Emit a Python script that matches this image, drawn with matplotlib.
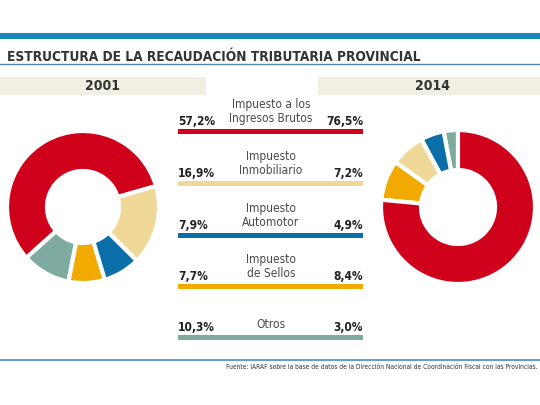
import numpy as np
import matplotlib.pyplot as plt
import matplotlib.patches as patches
from matplotlib import font_manager

categories = ['Impuesto a los\nIngresos Brutos', 'Impuesto\nInmobiliario',
              'Impuesto\nAutomotor', 'Impuesto\nde Sellos', 'Otros']
values_2001 = [57.2, 16.9, 7.9, 7.7, 10.3]
values_2014 = [76.5, 7.2, 4.9, 8.4, 3.0]
labels_2001 = ['57,2%', '16,9%', '7,9%', '7,7%', '10,3%']
labels_2014 = ['76,5%', '7,2%', '4,9%', '8,4%', '3,0%']
colours = ['#d0021b', '#efd898', '#0a6ea8', '#f2a900', '#7faaa0']

# order of the wedges going counter-clockwise in each donut
order_2001 = [0, 4, 3, 2, 1]
order_2014 = [4, 2, 1, 3, 0]

H = 405

# use a condensed face if one is around, otherwise Roboto
fp = font_manager.FontProperties(family='DejaVu Sans', stretch='condensed')
cond = 'Condensed' in font_manager.findfont(fp)
if cond:
    fam = dict(family='DejaVu Sans', fontstretch='condensed')
    k = 1.0
else:
    fam = dict(family='Roboto')
    k = 0.92

fig = plt.figure(figsize=(5.4, 4.05), dpi=100)
ax = fig.add_axes([0, 0, 1, 1])
ax.set_xlim(0, 540)
ax.set_ylim(0, H)
ax.axis('off')

def y(v):
    return H - v

# top bar, title and rules
ax.add_patch(patches.Rectangle((0, y(39)), 540, 6, color='#1a86c0', lw=0))
ax.text(7, y(57), 'ESTRUCTURA DE LA RECAUDACIÓN TRIBUTARIA PROVINCIAL',
        fontweight='bold', fontsize=9.8 * k, color='#333333',
        va='center', ha='left', **fam)
ax.plot([0, 540], [y(64), y(64)], color='#4f87ad', lw=1)
ax.plot([0, 540], [y(360), y(360)], color='#3d8fc6', lw=1.2)

# year headers
ax.add_patch(patches.Rectangle((0, y(95)), 206, 18, color='#f1eee2', lw=0))
ax.add_patch(patches.Rectangle((318, y(95)), 222, 18, color='#f1eee2', lw=0))
ax.text(103, y(86), '2001', fontweight='bold', fontsize=10,
        color='#333333', ha='center', va='center', **fam)
ax.text(432, y(86), '2014', fontweight='bold', fontsize=10,
        color='#333333', ha='center', va='center', **fam)

# donuts
ax.pie([values_2001[i] for i in order_2001],
       colors=[colours[i] for i in order_2001],
       startangle=16, counterclock=True, center=(83, y(207)), radius=76,
       frame=True, wedgeprops=dict(width=40, edgecolor='white', linewidth=3))
ax.pie([values_2014[i] for i in order_2014],
       colors=[colours[i] for i in order_2014],
       startangle=90, counterclock=True, center=(458, y(207)), radius=77,
       frame=True, wedgeprops=dict(width=40, edgecolor='white', linewidth=3))

# middle legend rows
row_y = [131, 183, 235, 286, 337]
for cat, l1, l2, c, yb in zip(categories, labels_2001, labels_2014, colours, row_y):
    ax.add_patch(patches.Rectangle((178, y(yb + 2.5)), 185, 5, color=c, lw=0))
    ax.text(178, y(yb - 6), l1, fontweight='bold', fontsize=8.6,
            color='#222222', ha='left', va='baseline', **fam)
    ax.text(363, y(yb - 6), l2, fontweight='bold', fontsize=8.6,
            color='#222222', ha='right', va='baseline', **fam)
    ax.text(271, y(yb - 9), cat, fontsize=8.6 * k, color='#4a4a4a',
            ha='center', va='baseline', linespacing=1.1, **fam)

ax.text(537, y(367), 'Fuente: IARAF sobre la base de datos de la Dirección '
        'Nacional de Coordinación Fiscal con las Provincias.',
        fontsize=4.8, color='#333333', ha='right', va='center', **fam)

ax.set_xlim(0, 540)
ax.set_ylim(0, H)
ax.set_aspect('auto')

plt.savefig('out.png', dpi=100)
